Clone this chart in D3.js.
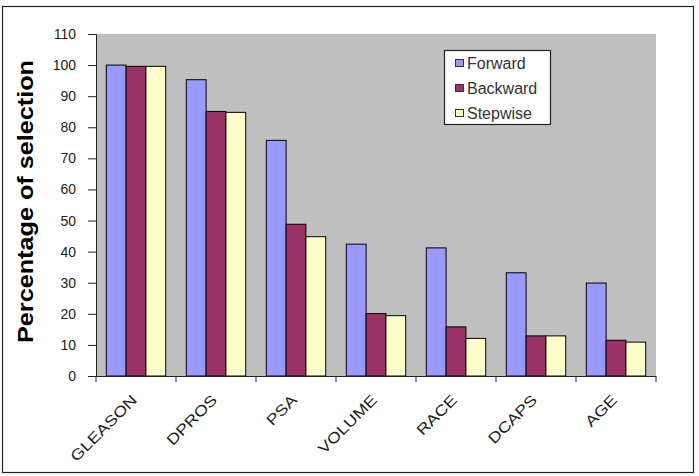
<!DOCTYPE html>
<html lang="en">
<head>
<meta charset="UTF-8">
<script src="https://cdnjs.cloudflare.com/ajax/libs/d3/7.8.5/d3.min.js"></script>
<style>
    body { margin: 0; background: #fff; }
    svg text { font-family: Arial, "Liberation Sans", sans-serif; }
</style>
</head>
<body>
<svg id="chart" width="699" height="476"></svg>
<script>
    // data
    var categories = ["GLEASON", "DPROS", "PSA", "VOLUME", "RACE", "DCAPS", "AGE"];
    var seriesNames = ["Forward", "Backward", "Stepwise"];
    var forward = [100, 95.3, 75.8, 42.4, 41.2, 33.2, 29.9];
    var backward = [99.6, 85.1, 48.8, 20.1, 15.8, 12.9, 11.5];
    var stepwise = [99.6, 84.8, 44.8, 19.4, 12.1, 12.9, 10.9];
    var colors = ["#9999ff", "#993366", "#ffffcc"];
    var yTicks = [0, 10, 20, 30, 40, 50, 60, 70, 80, 90, 100, 110];

    var values = [forward, backward, stepwise];

    var svg = d3.select("#chart");

    // outer frame
    svg.append("rect")
        .attr("x", 2.5).attr("y", 6.5)
        .attr("width", 691).attr("height", 466)
        .attr("fill", "#fff")
        .attr("stroke", "#222")
        .attr("stroke-width", 1.2);

    var plotLeft = 96, plotTop = 34, plotRight = 656, plotBottom = 376;

    var x = d3.scaleBand()
        .domain(categories)
        .range([plotLeft, plotRight]);

    var xInner = d3.scaleBand()
        .domain(seriesNames)
        .range([0, x.bandwidth()])
        .paddingOuter(0.52)
        .paddingInner(0);

    var y = d3.scaleLinear()
        .domain([0, 110])
        .range([plotBottom, plotTop]);

    // plot area
    svg.append("rect")
        .attr("x", plotLeft).attr("y", plotTop)
        .attr("width", plotRight - plotLeft).attr("height", plotBottom - plotTop)
        .attr("fill", "#c0c0c0");

    // bars
    var groups = svg.selectAll("g.cat")
        .data(categories)
        .enter().append("g")
        .attr("class", "cat")
        .attr("transform", function (d) { return "translate(" + x(d) + ",0)"; });

    groups.selectAll("rect")
        .data(function (d, i) {
            return seriesNames.map(function (s, j) {
                return {series: s, value: values[j][i], color: colors[j]};
            });
        })
        .enter().append("rect")
        .attr("x", function (d) { return xInner(d.series); })
        .attr("y", function (d) { return y(d.value); })
        .attr("width", xInner.bandwidth())
        .attr("height", function (d) { return plotBottom - y(d.value); })
        .attr("fill", function (d) { return d.color; })
        .attr("stroke", "#000")
        .attr("stroke-width", 1);

    // y axis
    var yAxis = d3.axisLeft(y)
        .tickValues(yTicks)
        .tickSize(8)
        .tickPadding(12);

    var gy = svg.append("g")
        .attr("transform", "translate(" + plotLeft + ",0)")
        .call(yAxis);
    gy.select(".domain").attr("stroke", "#222");
    gy.selectAll(".tick line").attr("stroke", "#222");
    gy.selectAll(".tick text")
        .attr("fill", "#222")
        .style("font-size", "14px");

    // x axis
    var gx = svg.append("g")
        .attr("transform", "translate(0," + plotBottom + ")");
    gx.append("line")
        .attr("x1", plotLeft).attr("x2", plotRight)
        .attr("y1", 0.5).attr("y2", 0.5)
        .attr("stroke", "#222");
    gx.selectAll("line.tk")
        .data(categories.concat(["end"]))
        .enter().append("line")
        .attr("class", "tk")
        .attr("x1", function (d, i) { return i < categories.length ? x(d) : plotRight; })
        .attr("x2", function (d, i) { return i < categories.length ? x(d) : plotRight; })
        .attr("y1", 0).attr("y2", 6)
        .attr("stroke", "#222");
    gx.selectAll("text")
        .data(categories)
        .enter().append("text")
        .attr("transform", function (d) {
            return "translate(" + (x(d) + x.bandwidth() / 2 + 2) + ",25) rotate(-45) scale(1.2,1)";
        })
        .attr("text-anchor", "end")
        .attr("fill", "#222")
        .style("font-size", "15px")
        .text(function (d) { return d; });

    // y title
    svg.append("text")
        .attr("transform", "translate(33,201.5) rotate(-90)")
        .attr("text-anchor", "middle")
        .attr("fill", "#000")
        .attr("textLength", 283)
        .attr("lengthAdjust", "spacingAndGlyphs")
        .style("font-size", "22px")
        .style("font-weight", "bold")
        .text("Percentage of selection");

    // legend
    var legend = svg.append("g").attr("transform", "translate(444,50)");
    legend.append("rect")
        .attr("x", 0.5).attr("y", 0.5)
        .attr("width", 106).attr("height", 74)
        .attr("fill", "#fff")
        .attr("stroke", "#222")
        .attr("stroke-width", 1.2);
    var items = legend.selectAll("g.item")
        .data(seriesNames)
        .enter().append("g")
        .attr("class", "item")
        .attr("transform", function (d, i) { return "translate(10," + (13 + i * 25) + ")"; });
    items.append("rect")
        .attr("x", 1.5).attr("y", -3.5)
        .attr("width", 8).attr("height", 7)
        .attr("fill", function (d, i) { return colors[i]; })
        .attr("stroke", "#333");
    items.append("text")
        .attr("x", 13)
        .attr("dy", "0.36em")
        .attr("fill", "#333")
        .style("font-size", "16px")
        .text(function (d) { return d; });
</script>
</body>
</html>
